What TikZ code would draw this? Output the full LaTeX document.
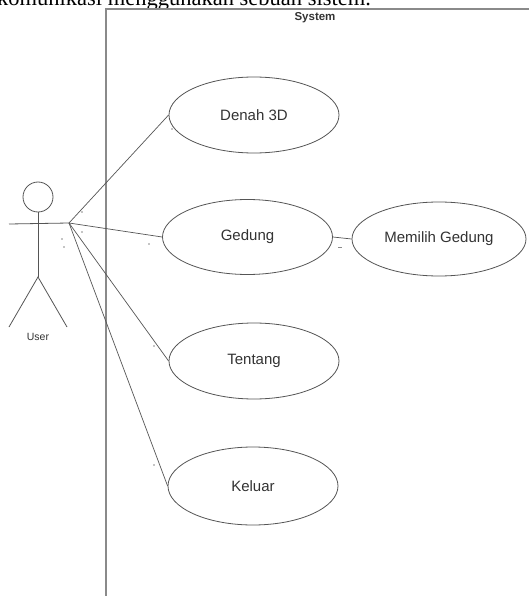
\documentclass[tikz,border=0pt]{standalone}
\usepackage{fontspec}
\setmainfont{Liberation Sans}
\newfontfamily\serifont{Liberation Serif}
\usetikzlibrary{shapes.geometric}
\definecolor{linec}{HTML}{555555}
\definecolor{boundc}{HTML}{8A8A8A}
\definecolor{textc}{HTML}{333333}
\begin{document}
\begin{tikzpicture}[x=1pt,y=-1pt,
  uc/.style={ellipse,draw=linec,line width=0.8pt,inner sep=0pt,text=textc,font=\fontsize{15}{17}\selectfont},
  assoc/.style={draw=linec,line width=0.7pt},
  actorline/.style={draw=linec,line width=0.8pt},
  dotmark/.style={fill=boundc,draw=none}]
\useasboundingbox (0,0) rectangle (528,596);
\fill[white] (0,0) rectangle (528,596);
% cropped caption text at top
\begin{scope}
\clip (0,0) rectangle (528,596);
\node[anchor=base west,inner sep=0pt,font=\serifont\fontsize{22.5}{24}\selectfont] (caption) at (-3,5.5) {komunikasi menggunakan sebuah sistem.};
\end{scope}
% system boundary
\draw[boundc,line width=1.3pt] (106,596) -- (106,9) -- (530,9);
\node[font=\bfseries\fontsize{11.5}{13}\selectfont,text=textc] (sys) at (315,18) {System};
% actor
\node[circle,draw=linec,line width=0.8pt,minimum size=30pt,inner sep=0pt] (head) at (38,197) {};
\coordinate (hip) at (38,277);
\coordinate (hand) at (69,223);
\draw[actorline] (head.south) -- (hip);
\draw[actorline] (9,224) -- (hand);
\draw[actorline] (9,327) -- (hip) -- (67,327);
\node[font=\fontsize{10.5}{12}\selectfont,text=textc] (user) at (38,337) {User};
% use cases
\node[uc,minimum width=170pt,minimum height=76pt] (denah) at (254,115) {Denah 3D};
\node[uc,minimum width=170pt,minimum height=75pt] (gedung) at (247.5,237) {Gedung};
\node[uc,minimum width=174pt,minimum height=74pt] (memilih) at (439,239) {Memilih Gedung};
\node[uc,minimum width=170pt,minimum height=76pt] (tentang) at (254,361) {Tentang};
\node[uc,minimum width=170pt,minimum height=78pt] (keluar) at (253,486) {Keluar};
% associations
\draw[assoc] (hand) -- (denah.west);
\draw[assoc] (hand) -- (gedung.west);
\draw[assoc] (hand) -- (tentang.west);
\draw[assoc] (hand) -- (keluar.west);
\draw[assoc] (gedung.east) -- (memilih.west);
% small multiplicity marks
\foreach \p in {(82,212),(82,232),(62,239),(64,247),(172,129),(149,244),(154,346),(154,465)}
  \fill[dotmark] \p circle (0.9pt);
\fill[dotmark] (338,246.5) rectangle (342,247.5);
\end{tikzpicture}
\end{document}
